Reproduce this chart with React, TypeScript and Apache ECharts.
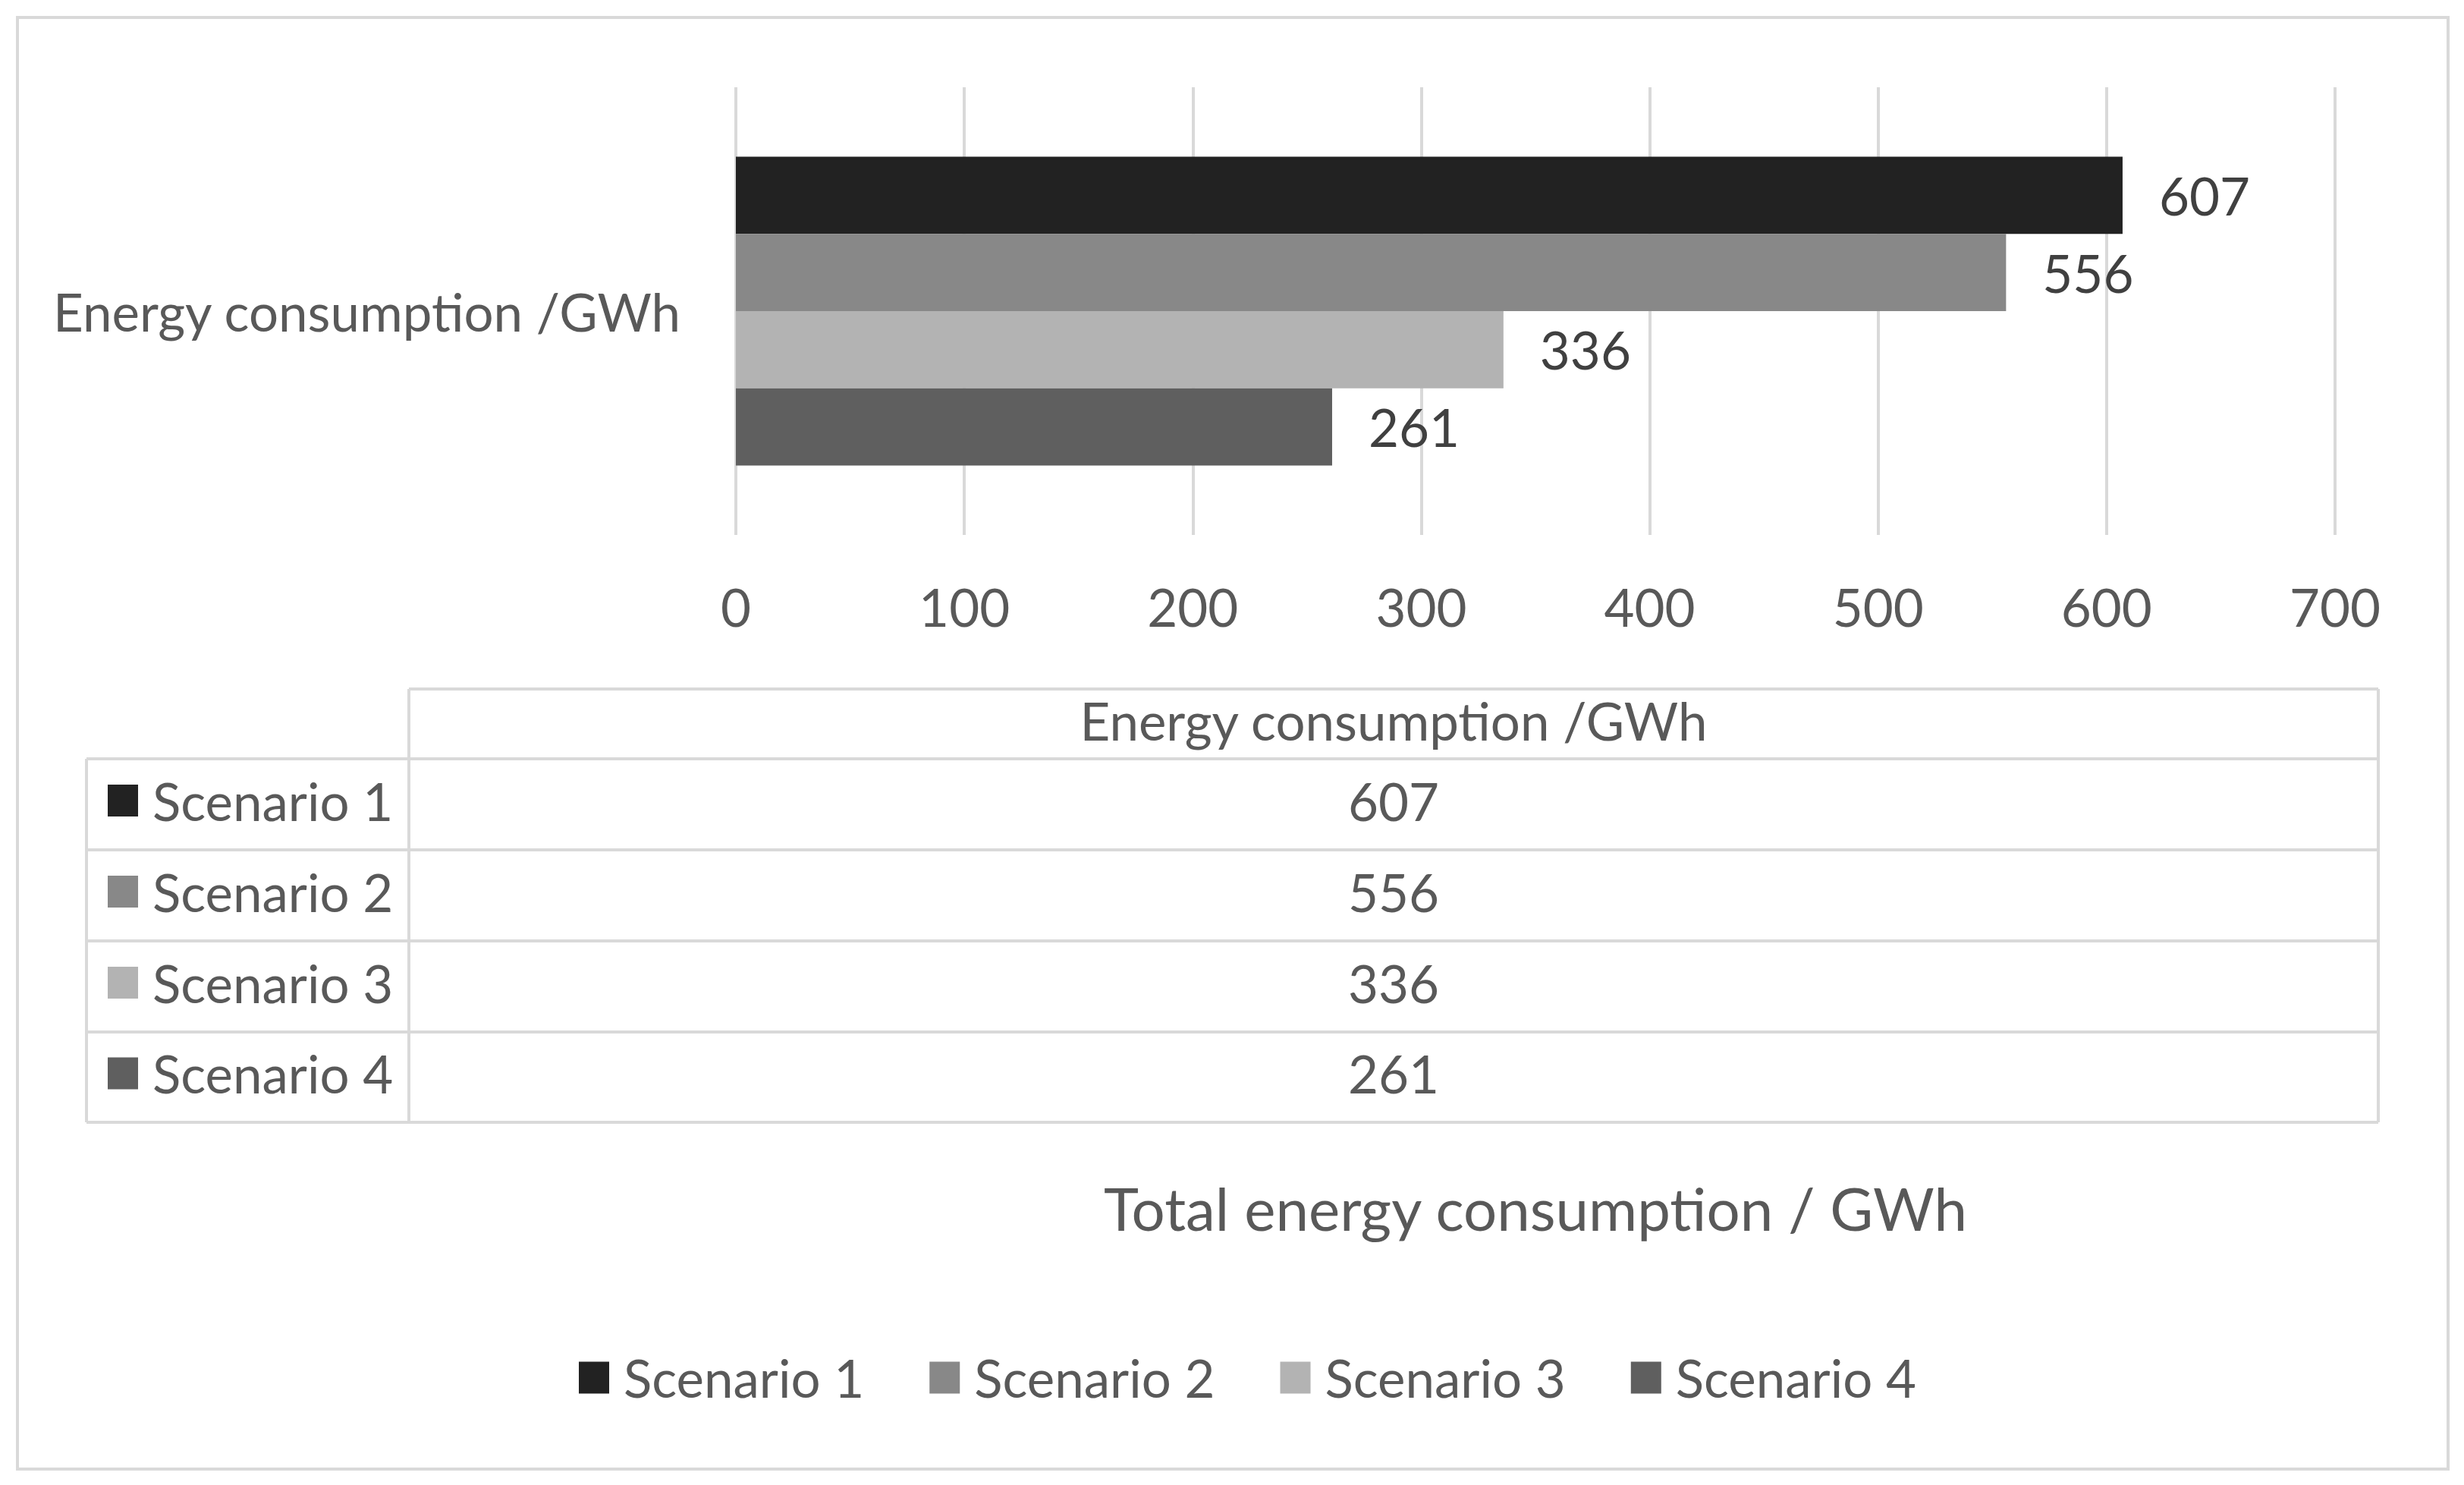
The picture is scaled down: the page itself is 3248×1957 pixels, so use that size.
import React, { useEffect, useRef } from "react";
import * as echarts from "echarts";

// ---- data ----
const categories = ["Energy consumption /GWh"];
const seriesNames = ["Scenario 1", "Scenario 2", "Scenario 3", "Scenario 4"];
const seriesValues = [607, 556, 336, 261];
const seriesColors = ["#222222", "#888888", "#b3b3b3", "#5f5f5f"];
const xMin = 0;
const xMax = 700;
const xInterval = 100;
const axisTitle = "Total energy consumption / GWh";
const tableHeader = "Energy consumption /GWh";

// ---- style ----
const FONT = "Lato";
const FS = 69;
const TEXT = "#595959";
const LABEL = "#404040";
const LINE = "#d9d9d9";

export default function App() {
  const ref = useRef<HTMLDivElement>(null);

  useEffect(() => {
    if (!ref.current) return;
    const chart = echarts.init(ref.current, undefined, { renderer: "svg" });

    // table geometry
    const tLeft = 114;
    const tSep = 539;
    const tRight = 3135;
    const tTop = 908;
    const rowLines = [1000, 1120, 1240, 1360, 1479];
    const lw = 4;
    const dy = -5;

    const graphics: any[] = [];
    // outer border
    graphics.push({
      type: "rect",
      shape: { x: 23, y: 23, width: 3204, height: 1913 },
      style: { fill: "none", stroke: LINE, lineWidth: 4 },
      z: 0,
    });
    // header top line
    graphics.push({
      type: "line",
      shape: { x1: tSep, y1: tTop, x2: tRight, y2: tTop },
      style: { stroke: LINE, lineWidth: lw },
    });
    // horizontal row lines
    rowLines.forEach((y) => {
      graphics.push({
        type: "line",
        shape: { x1: tLeft, y1: y, x2: tRight, y2: y },
        style: { stroke: LINE, lineWidth: lw },
      });
    });
    // verticals
    graphics.push({
      type: "line",
      shape: { x1: tLeft, y1: rowLines[0], x2: tLeft, y2: rowLines[rowLines.length - 1] },
      style: { stroke: LINE, lineWidth: lw },
    });
    graphics.push({
      type: "line",
      shape: { x1: tSep, y1: tTop, x2: tSep, y2: rowLines[rowLines.length - 1] },
      style: { stroke: LINE, lineWidth: lw },
    });
    graphics.push({
      type: "line",
      shape: { x1: tRight, y1: tTop, x2: tRight, y2: rowLines[rowLines.length - 1] },
      style: { stroke: LINE, lineWidth: lw },
    });
    const midX = (tSep + tRight) / 2;
    graphics.push({
      type: "text",
      style: {
        text: tableHeader,
        x: midX,
        y: (tTop + rowLines[0]) / 2 + dy,
        align: "center",
        verticalAlign: "middle",
        fill: TEXT,
        fontSize: FS,
        fontFamily: FONT,
      },
    });
    seriesNames.forEach((name, i) => {
      const cy = (rowLines[i] + rowLines[i + 1]) / 2;
      graphics.push({
        type: "rect",
        shape: { x: 142, y: cy - 21 + dy, width: 40, height: 42 },
        style: { fill: seriesColors[i] },
      });
      graphics.push({
        type: "text",
        style: {
          text: name,
          x: 201,
          y: cy + dy,
          align: "left",
          verticalAlign: "middle",
          fill: TEXT,
          fontSize: FS,
          fontFamily: FONT,
        },
      });
      graphics.push({
        type: "text",
        style: {
          text: String(seriesValues[i]),
          x: midX,
          y: cy + dy,
          align: "center",
          verticalAlign: "middle",
          fill: TEXT,
          fontSize: FS,
          fontFamily: FONT,
        },
      });
    });
    // axis title
    graphics.push({
      type: "text",
      style: {
        text: axisTitle,
        x: (970 + 3078) / 2,
        y: 1592,
        align: "center",
        verticalAlign: "middle",
        fill: TEXT,
        fontSize: 78,
        fontFamily: FONT,
      },
    });

    const option: any = {
      animation: false,
      backgroundColor: "#ffffff",
      textStyle: { fontFamily: FONT },
      grid: { left: 970, right: 170, top: 115, bottom: 1252, containLabel: false },
      xAxis: {
        type: "value",
        min: xMin,
        max: xMax,
        interval: xInterval,
        axisLine: { show: false },
        axisTick: { show: false },
        splitLine: { show: true, lineStyle: { color: LINE, width: 4 } },
        axisLabel: { color: TEXT, fontSize: FS, fontFamily: FONT, margin: 60 },
      },
      yAxis: {
        type: "category",
        data: categories,
        inverse: true,
        axisLine: { show: false },
        axisTick: { show: false },
        splitLine: { show: false },
        axisLabel: { color: TEXT, fontSize: FS, fontFamily: FONT, margin: 73 },
      },
      legend: {
        data: seriesNames,
        left: 758,
        top: 1776,
        itemWidth: 40,
        itemHeight: 42,
        itemGap: 86,
        icon: "rect",
        textStyle: { color: TEXT, fontSize: FS, fontFamily: FONT, padding: [0, 0, 0, 14] },
      },
      series: seriesNames.map((name, i) => ({
        name,
        type: "bar",
        data: [seriesValues[i]],
        itemStyle: { color: seriesColors[i] },
        barGap: "0%",
        barCategoryGap: "31%",
        label: {
          show: true,
          position: "right",
          distance: 48,
          color: LABEL,
          fontSize: FS,
          fontFamily: FONT,
        },
      })),
      graphic: { elements: graphics },
    };
    chart.setOption(option);
    return () => chart.dispose();
  }, []);

  return (
    <div
      ref={ref}
      style={{ position: "absolute", left: 0, top: 0, width: 3248, height: 1957, background: "#fff" }}
    />
  );
}
